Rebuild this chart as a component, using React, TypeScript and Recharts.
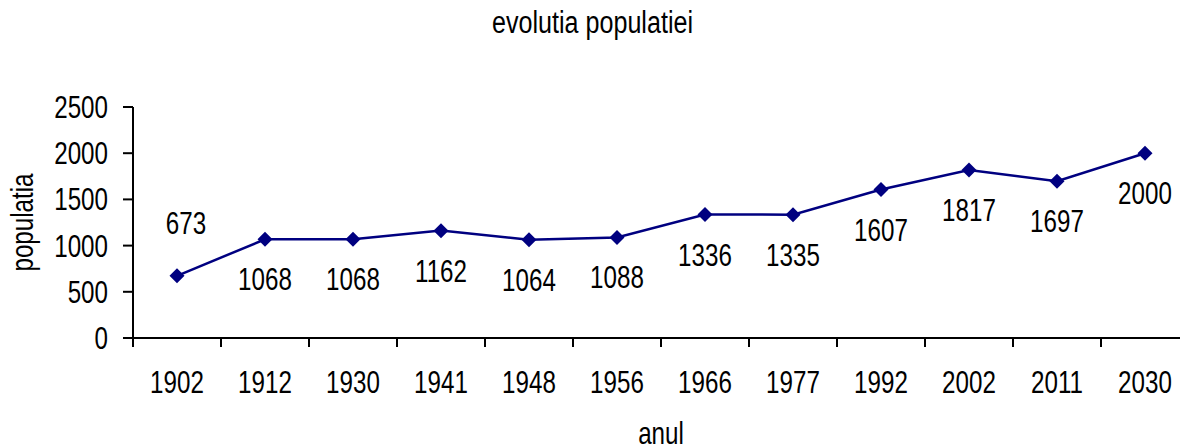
import React from 'react';
import { LineChart, Line, XAxis, YAxis, LabelList, Label } from 'recharts';

const years = ['1902', '1912', '1930', '1941', '1948', '1956', '1966', '1977', '1992', '2002', '2011', '2030'];
const population = [673, 1068, 1068, 1162, 1064, 1088, 1336, 1335, 1607, 1817, 1697, 2000];
const yTicks = [0, 500, 1000, 1500, 2000, 2500];

const data = years.map((y, i) => ({ year: y, pop: population[i] }));

const FONT = '"Liberation Sans", Arial, sans-serif';
const FS = 31;
const SX = 0.78;
const NAVY = '#000080';

const XTick = (props: any) => {
  const { x, y, payload, width, visibleTicksCount } = props;
  const half = width && visibleTicksCount ? width / visibleTicksCount / 2 : 44;
  return (
    <g>
      <line x1={x - half} x2={x - half} y1={y - 9} y2={y} stroke="#000" strokeWidth={2} />
      <text
        transform={`translate(${x},${y + 46}) scale(${SX},1)`}
        textAnchor="middle"
        fontSize={FS}
        fontFamily={FONT}
        fill="#000"
      >
        {payload.value}
      </text>
    </g>
  );
};

const YTick = (props: any) => {
  const { x, y, payload } = props;
  return (
    <text
      transform={`translate(${x},${y + 11}) scale(${SX},1)`}
      textAnchor="end"
      fontSize={FS}
      fontFamily={FONT}
      fill="#000"
    >
      {payload.value}
    </text>
  );
};

const Dot = (props: any) => {
  const { cx, cy } = props;
  if (cx == null || cy == null) return null;
  const r = 7.5;
  return <path d={`M${cx},${cy - r}L${cx + r},${cy}L${cx},${cy + r}L${cx - r},${cy}Z`} fill={NAVY} />;
};

const renderValueLabel = (props: any) => {
  const { x, y, value, index } = props;
  const above = index === 0;
  const tx = above ? x + 9 : x;
  const ty = above ? y - 53 + 11 : y + 40 + 11;
  return (
    <text
      key={`lbl-${index}`}
      transform={`translate(${tx},${ty}) scale(${SX},1)`}
      textAnchor="middle"
      fontSize={FS}
      fontFamily={FONT}
      fill="#000"
    >
      {value}
    </text>
  );
};

const XAxisTitle = (props: any) => {
  const vb = props.viewBox || { x: 133, y: 338, width: 1056 };
  const cx = vb.x + vb.width / 2;
  return (
    <text
      transform={`translate(${cx},${vb.y + 106}) scale(${SX},1)`}
      textAnchor="middle"
      fontSize={FS}
      fontFamily={FONT}
      fill="#000"
    >
      anul
    </text>
  );
};

const YAxisTitle = (props: any) => {
  const vb = props.viewBox || { x: 33, y: 107, height: 231 };
  const cy = vb.y + vb.height / 2;
  return (
    <text
      transform={`translate(${vb.x},${cy}) rotate(-90) scale(${SX},1)`}
      textAnchor="middle"
      fontSize={FS}
      fontFamily={FONT}
      fill="#000"
    >
      populatia
    </text>
  );
};

export default function App() {
  return (
    <div style={{ position: 'absolute', left: 0, top: 0, width: 1180, height: 446, overflow: 'hidden', background: '#fff' }}>
      <div
        style={{
          position: 'absolute',
          left: 0,
          width: 1185,
          top: 7,
          textAlign: 'center',
          fontFamily: FONT,
          fontSize: FS,
          lineHeight: '31px',
          color: '#000',
          transform: 'scaleX(0.81)',
          transformOrigin: '592.5px 0',
          whiteSpace: 'nowrap',
        }}
      >
        evolutia populatiei
      </div>
      <LineChart
        width={1200}
        height={446}
        data={data}
        margin={{ top: 107, right: 11, bottom: 48, left: 33 }}
      >
        <XAxis
          dataKey="year"
          scale="band"
          height={60}
          tickLine={false}
          tickSize={9}
          tickMargin={0}
          tick={<XTick />}
          axisLine={{ stroke: '#000', strokeWidth: 2 }}
          interval={0}
        >
          <Label content={<XAxisTitle />} />
        </XAxis>
        <YAxis
          width={100}
          domain={[0, 2500]}
          ticks={yTicks}
          tickSize={10}
          tickMargin={15}
          tick={<YTick />}
          tickLine={{ stroke: '#000', strokeWidth: 2 }}
          axisLine={{ stroke: '#000', strokeWidth: 2 }}
          interval={0}
        >
          <Label content={<YAxisTitle />} />
        </YAxis>
        <Line
          type="linear"
          dataKey="pop"
          stroke={NAVY}
          strokeWidth={2.5}
          dot={<Dot />}
          activeDot={false}
          isAnimationActive={false}
        >
          <LabelList dataKey="pop" content={renderValueLabel} />
        </Line>
      </LineChart>
    </div>
  );
}
